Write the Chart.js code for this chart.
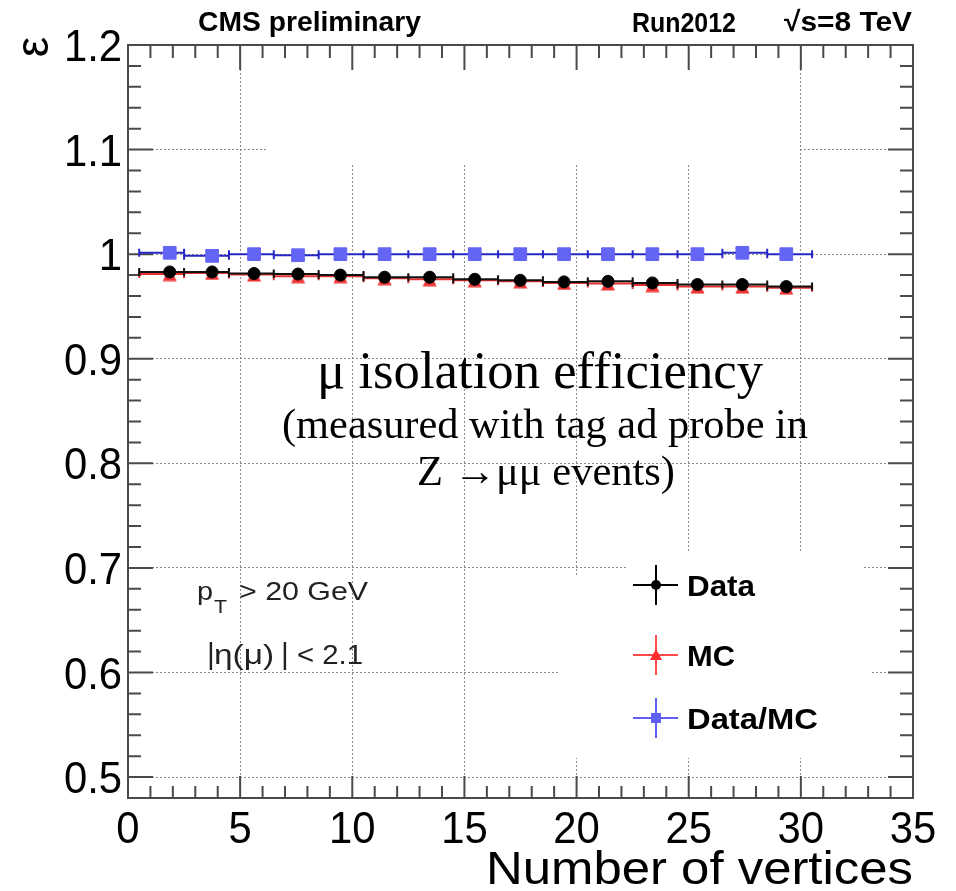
<!DOCTYPE html>
<html>
<head>
<meta charset="utf-8">
<script src="https://cdn.jsdelivr.net/npm/chart.js@4.4.1/dist/chart.umd.min.js"></script>
<style>
  html, body { margin: 0; padding: 0; background: #fff; }
</style>
</head>
<body>
<canvas id="myChart" width="956" height="891"></canvas>
<script>
    // bins in number of vertices (edges) and mean position inside each bin
    const binLow  = [0.5, 2.5, 4.5, 6.5, 8.5, 10.5, 12.5, 14.5, 16.5, 18.5, 20.5, 22.5, 24.5, 26.5, 28.5];
    const binHigh = [2.5, 4.5, 6.5, 8.5, 10.5, 12.5, 14.5, 16.5, 18.5, 20.5, 22.5, 24.5, 26.5, 28.5, 30.5];
    const binMean = [1.86, 3.75, 5.62, 7.58, 9.47, 11.44, 13.45, 15.46, 17.49, 19.44, 21.4, 23.38, 25.39, 27.39, 29.35];

    // isolation efficiency
    const effData = [0.983, 0.983, 0.9815, 0.981, 0.980, 0.978, 0.978, 0.976, 0.975, 0.9735, 0.974, 0.9725, 0.971, 0.971, 0.969];
    const effMC   = [0.981, 0.982, 0.9805, 0.979, 0.979, 0.977, 0.976, 0.975, 0.974, 0.9725, 0.972, 0.9705, 0.969, 0.969, 0.968];
    const ratio   = [1.0013, 0.9984, 1.0, 0.999, 1.0, 1.0, 1.0, 1.0, 1.0, 1.0, 1.0, 1.0, 1.0, 1.0013, 1.0];

    // axis ticks
    const xTicks = [0, 5, 10, 15, 20, 25, 30, 35];
    const yTicks = [0.5, 0.6, 0.7, 0.8, 0.9, 1.0, 1.1, 1.2];

    const SANS = '"Liberation Sans", Arial';
    const SERIF = '"Liberation Serif", "Times New Roman"';

    // text helper, squeezed or stretched to the width seen in the picture
    function txt(ctx, s, x, y, o) {
        ctx.save();
        ctx.font = o.font;
        ctx.fillStyle = o.color || '#000';
        ctx.textBaseline = 'alphabetic';
        ctx.textAlign = 'left';
        const w = ctx.measureText(s).width;
        const sx = o.width ? o.width / w : (o.sx || 1);
        let left = x;
        if (o.align === 'right') left = x - w * sx;
        if (o.align === 'center') left = x - w * sx / 2;
        ctx.translate(left, y);
        ctx.scale(sx, 1);
        ctx.fillText(s, 0, 0);
        ctx.restore();
    }

    // triangle marker whose base sits at the bottom of its box (ROOT style)
    function triangleMarker(size, color) {
        const c = document.createElement('canvas');
        c.width = size; c.height = size;
        const g = c.getContext('2d');
        g.fillStyle = color;
        g.beginPath();
        g.moveTo(size / 2, 0.5);
        g.lineTo(size - 0.5, size - 0.5);
        g.lineTo(0.5, size - 0.5);
        g.closePath();
        g.fill();
        return c;
    }

    const lineColors = ['#111111', '#e53030', '#2626c4'];

    const rootFrame = {
        id: 'rootFrame',
        beforeDatasetsDraw(chart) {
            const ctx = chart.ctx;
            const a = chart.chartArea;
            const xs = chart.scales.x, ys = chart.scales.y;

            // white patches of the pasted annotations hide part of the grid
            ctx.save();
            ctx.fillStyle = '#fff';
            ctx.fillRect(268, a.top + 2, 531, 118);
            ctx.fillRect(560, 575, 310, 183);
            ctx.fillRect(628, 552, 234, 23);
            ctx.restore();

            // frame and inner ticks
            ctx.save();
            ctx.strokeStyle = '#4a4a4a';
            ctx.lineWidth = 2;
            ctx.beginPath();
            for (let v = 0; v <= 35; v++) {
                const px = xs.getPixelForValue(v);
                const major = v % 5 === 0;
                ctx.moveTo(px, a.bottom); ctx.lineTo(px, a.bottom - (major ? 22 : 12));
                ctx.moveTo(px, a.top); ctx.lineTo(px, a.top + (major ? 25 : 13));
            }
            for (let k = 24; k <= 60; k++) {
                const py = ys.getPixelForValue(k / 50);
                const len = k % 5 === 0 ? 25 : 13;
                ctx.moveTo(a.left, py); ctx.lineTo(a.left + len, py);
                ctx.moveTo(a.right, py); ctx.lineTo(a.right - len, py);
            }
            ctx.stroke();
            ctx.strokeRect(a.left, a.top, a.right - a.left, a.bottom - a.top);
            ctx.restore();

            // horizontal error bars (bin width) with end caps
            const sets = [ratio, effMC, effData];
            const cols = [lineColors[2], lineColors[1], lineColors[0]];
            sets.forEach((vals, s) => {
                ctx.save();
                ctx.strokeStyle = cols[s];
                ctx.lineWidth = 2;
                ctx.beginPath();
                vals.forEach((v, i) => {
                    const py = ys.getPixelForValue(v);
                    const x0 = xs.getPixelForValue(binLow[i]);
                    const x1 = xs.getPixelForValue(binHigh[i]);
                    ctx.moveTo(x0, py); ctx.lineTo(x1, py);
                    ctx.moveTo(x0, py - 4); ctx.lineTo(x0, py + 4);
                    ctx.moveTo(x1, py - 4); ctx.lineTo(x1, py + 4);
                });
                ctx.stroke();
                ctx.restore();
            });
        },
        afterDraw(chart) {
            const ctx = chart.ctx;
            const a = chart.chartArea;
            const xs = chart.scales.x, ys = chart.scales.y;

            // tick labels
            ys.ticks.forEach(t => {
                const py = ys.getPixelForValue(t.value);
                txt(ctx, String(+t.value.toFixed(1)), 122, py + 16, { font: '44px ' + SANS, sx: 0.95, align: 'right' });
            });
            xs.ticks.forEach(t => {
                const px = xs.getPixelForValue(t.value);
                txt(ctx, String(t.value), px, 843, { font: '45px ' + SANS, sx: 0.93, align: 'center' });
            });

            // axis titles
            txt(ctx, 'Number of vertices', a.right, 884, { font: '47px ' + SANS, width: 427, align: 'right' });
            ctx.save();
            ctx.translate(35, 47);
            ctx.rotate(-Math.PI / 2);
            ctx.font = '46px ' + SANS;
            ctx.fillStyle = '#000';
            ctx.textAlign = 'center';
            ctx.textBaseline = 'middle';
            ctx.fillText('ε', 0, 0);
            ctx.restore();

            // header
            txt(ctx, 'CMS preliminary', 198, 31, { font: 'bold 28px ' + SANS, width: 223 });
            txt(ctx, 'Run2012', 632, 32, { font: 'bold 28px ' + SANS, width: 104 });
            txt(ctx, '√s=8 TeV', 784, 31, { font: 'bold 28px ' + SANS, width: 128 });

            // cuts
            txt(ctx, 'p', 197, 600, { font: '26px ' + SANS, color: '#222', width: 16 });
            txt(ctx, 'T', 214, 613, { font: '18px ' + SANS, color: '#222', width: 13 });
            txt(ctx, '> 20 GeV', 239, 600, { font: '26px ' + SANS, color: '#222', width: 129 });
            txt(ctx, '|', 207, 664, { font: '30px ' + SANS, color: '#222' });
            txt(ctx, 'η(μ)', 214, 664, { font: '28px ' + SANS, color: '#222', width: 60 });
            txt(ctx, '|', 281, 664, { font: '30px ' + SANS, color: '#222' });
            txt(ctx, '< 2.1', 297, 664, { font: '28px ' + SANS, color: '#222', width: 66 });

            // annotation
            txt(ctx, 'μ isolation efficiency', 317, 388, { font: '52px ' + SERIF, width: 446 });
            txt(ctx, '(measured with tag ad probe in', 282, 438, { font: '42px ' + SERIF, width: 526 });
            txt(ctx, 'Z →μμ events)', 417, 485, { font: '42px ' + SERIF, width: 258 });

            // legend
            const leg = [
                { label: 'Data', y: 585, line: '#000', fill: '#000', mark: 'circle', w: 68 },
                { label: 'MC', y: 655, line: '#ff4a4a', fill: '#ff2a2a', mark: 'tri', w: 48 },
                { label: 'Data/MC', y: 718, line: '#5f5ff2', fill: '#5f5ff2', mark: 'rect', w: 131 }
            ];
            leg.forEach(e => {
                const cx = 656;
                ctx.save();
                ctx.strokeStyle = e.line;
                ctx.lineWidth = 2;
                ctx.beginPath();
                ctx.moveTo(cx - 23, e.y); ctx.lineTo(cx + 22, e.y);
                ctx.moveTo(cx, e.y - 20); ctx.lineTo(cx, e.y + 20);
                ctx.stroke();
                ctx.fillStyle = e.fill;
                ctx.beginPath();
                if (e.mark === 'circle') ctx.arc(cx, e.y, 5, 0, Math.PI * 2);
                if (e.mark === 'tri') { ctx.moveTo(cx, e.y - 6); ctx.lineTo(cx + 6, e.y + 5); ctx.lineTo(cx - 6, e.y + 5); ctx.closePath(); }
                if (e.mark === 'rect') ctx.rect(cx - 5, e.y - 5, 10, 10);
                ctx.fill();
                ctx.restore();
                txt(ctx, e.label, 687, e.y + 11, { font: 'bold 30px ' + SANS, width: e.w });
            });
        }
    };

    const toPoints = vals => vals.map((v, i) => ({ x: binMean[i], y: v }));

    const ctx = document.getElementById('myChart').getContext('2d');
    const chart = new Chart(ctx, {
        type: 'scatter',
        data: {
            datasets: [
                {
                    label: 'Data',
                    data: toPoints(effData),
                    pointStyle: 'circle',
                    pointRadius: 6,
                    backgroundColor: '#000',
                    borderColor: '#000',
                    pointBorderWidth: 1
                },
                {
                    label: 'MC',
                    data: toPoints(effMC),
                    pointStyle: triangleMarker(15, '#ee3434'),
                    pointRadius: 8,
                    backgroundColor: '#ee3434',
                    borderColor: '#ee3434'
                },
                {
                    label: 'Data/MC',
                    data: toPoints(ratio),
                    pointStyle: 'rect',
                    pointRadius: 9,
                    backgroundColor: '#6464f5',
                    borderColor: '#6464f5',
                    pointBorderWidth: 1
                }
            ]
        },
        options: {
            responsive: false,
            animation: false,
            events: [],
            layout: { padding: { top: 45, right: 43, left: 0, bottom: 0 } },
            plugins: { legend: { display: false }, tooltip: { enabled: false } },
            scales: {
                x: {
                    type: 'linear',
                    min: 0,
                    max: 35,
                    afterBuildTicks: s => { s.ticks = xTicks.map(v => ({ value: v })); },
                    afterFit: s => { s.height = 93; },
                    ticks: { display: false },
                    grid: { color: '#8a8a8a', lineWidth: 1, drawTicks: false },
                    border: { display: false, dash: [2, 2] }
                },
                y: {
                    type: 'linear',
                    min: 0.48,
                    max: 1.2,
                    afterBuildTicks: s => { s.ticks = yTicks.map(v => ({ value: v })); },
                    afterFit: s => { s.width = 128; },
                    ticks: { display: false },
                    grid: { color: '#8a8a8a', lineWidth: 1, drawTicks: false },
                    border: { display: false, dash: [2, 2] }
                }
            }
        },
        plugins: [rootFrame]
    });
</script>
</body>
</html>
